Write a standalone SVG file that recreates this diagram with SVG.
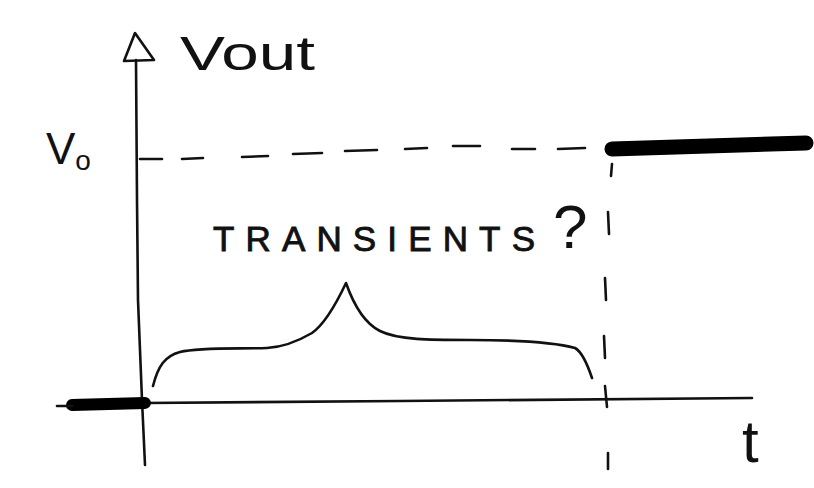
<svg xmlns="http://www.w3.org/2000/svg" width="814" height="488" viewBox="0 0 814 488">
<style>
.ln{fill:none;stroke:#111;stroke-width:2.6;stroke-linecap:round;stroke-linejoin:round}
.ds{fill:none;stroke:#111;stroke-width:2.6;stroke-linecap:round}
.thick{fill:none;stroke:#000;stroke-linecap:round}
.hw{font-family:"Liberation Sans","DejaVu Sans",sans-serif;fill:#111;font-weight:normal}
.hs{stroke:#111;stroke-width:0.9}
</style>
<rect width="814" height="488" fill="#ffffff"/>
<g id="axes">
  <path class="ln" d="M136,60 L137,200 L138,300 L142,400 L145,465"/>
  <path class="ln" d="M135,33 L124,61 L154,60 Z" fill="#fff"/>
  <path class="ln" d="M145,403 L400,401 L752,398"/>
</g>
<g id="levels">
  <path class="thick" stroke-width="12" d="M72,405 L145,403"/>
  <path class="ln" d="M57,406 L72,406"/>
  <path class="thick" stroke-width="15" d="M612,149 L806,143"/>
</g>
<g id="dashes">
  <path class="ds" d="M140,159 L162,159 M182,159 L203,158 M242,157 L268,156 M293,154 L322,153 M345,151 L377,150 M405,149 L427,148 M453,146 L480,146 M512,149 L535,149 M558,149 L585,148"/>
  <path class="ds" d="M612,164 L611,176 M608,212 L609,234 M605,278 L606,300 M604,336 L605,358 M605,386 L607,407 M608,453 L608,469"/>
</g>
<g id="brace">
  <path class="ln" d="M153,386 C158,366 165,356 180,352 C200,347 240,349 267,348 C285,347 300,340 312,333 C326,323 338,300 346,283 C352,300 362,322 380,331 C398,340 430,340 470,340 C510,340 550,341 575,348 C582,352 588,366 592,378"/>
</g>
<g id="labels">
  <text class="hw" x="180" y="70" font-size="48" textLength="135" lengthAdjust="spacingAndGlyphs">Vout</text>
  <text class="hw" x="46" y="164" font-size="44">V<tspan font-size="28" dy="6">o</tspan></text>
  <text class="hw hs" x="213" y="251" font-size="35" textLength="322" lengthAdjust="spacing">TRANSIENTS</text>
  <text class="hw" x="553" y="248" font-size="62">?</text>
  <text class="hw" x="742" y="462" font-size="60">t</text>
</g>
</svg>
